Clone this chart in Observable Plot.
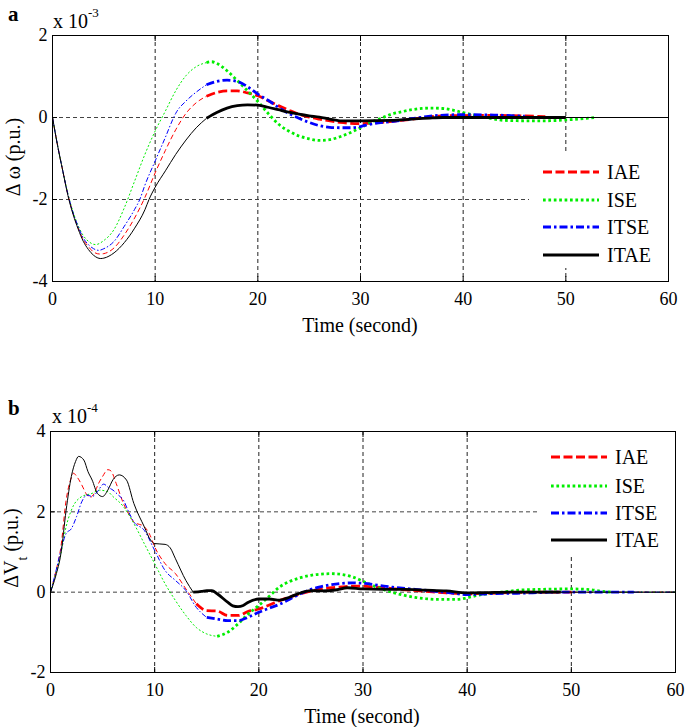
<!DOCTYPE html>
<html><head><meta charset="utf-8">
<script src="https://cdn.jsdelivr.net/npm/d3@7"></script>
<script src="https://cdn.jsdelivr.net/npm/@observablehq/plot@0.6"></script>
<style>
html,body{margin:0;padding:0;background:#fff;}
#wrap{position:relative;width:685px;height:727px;overflow:hidden;font-family:"Liberation Serif","Times New Roman",serif;color:#000;background:#fff;}
.abs{position:absolute;white-space:nowrap;line-height:1;}
.plotbox{position:absolute;left:0;}
</style></head><body><div id="wrap"></div>
<script>
// ---------- data ----------
const xTicks = [0, 10, 20, 30, 40, 50, 60];
const topYTicks = [-4, -2, 0, 2];
const botYTicks = [-2, 0, 2, 4];
const seriesNames = ["IAE", "ISE", "ITSE", "ITAE"];

// Panel a: Δω (×10^-3 p.u.)
const topIAE = [[0,0],[0.5,-0.69],[1,-1.3],[1.5,-1.88],[2,-2.33],[2.5,-2.69],[3,-2.98],[3.5,-3.15],[4,-3.28],[4.6,-3.33],[5,-3.32],[6,-3.18],[7,-2.86],[8,-2.45],[9,-1.95],[10,-1.35],[11,-0.8],[12,-0.3],[13,0.1],[14,0.36],[15,0.52],[16,0.61],[17,0.65],[18,0.65],[19,0.6],[20,0.53],[21,0.41],[22,0.29],[23,0.18],[24,0.08],[25,0.01],[26,-0.04],[28,-0.12],[30,-0.15],[32,-0.12],[34,-0.07],[36,-0.01],[38,0.04],[42,0.05],[46,0.04],[48,0.02],[50,0],[60,0]];
const topISE = [[0,0],[0.5,-0.69],[1,-1.3],[1.5,-1.86],[2,-2.3],[2.5,-2.64],[3,-2.88],[3.5,-3.02],[4.2,-3.1],[5,-3.0],[6,-2.73],[7,-2.2],[8,-1.55],[9,-0.9],[10,-0.33],[11,0.16],[12,0.65],[13,1.02],[14,1.24],[15,1.34],[15.5,1.36],[16,1.32],[17,1.14],[18,0.9],[19,0.65],[20,0.39],[21,0.1],[22,-0.16],[23,-0.33],[24,-0.45],[25,-0.52],[26,-0.56],[27,-0.54],[28,-0.47],[29,-0.37],[30,-0.25],[31,-0.12],[32,-0.02],[33,0.08],[34,0.14],[35,0.19],[36,0.22],[37,0.23],[38,0.22],[39,0.18],[40,0.12],[41,0.06],[42,0.01],[43,-0.04],[44,-0.07],[46,-0.08],[48,-0.08],[50,-0.06],[52,-0.02],[53,0],[60,0]];
const topITSE = [[0,0],[0.5,-0.69],[1,-1.3],[1.5,-1.87],[2,-2.32],[2.5,-2.66],[3,-2.94],[3.5,-3.1],[4,-3.2],[4.5,-3.24],[5,-3.2],[6,-3.02],[7,-2.65],[8,-2.24],[8.5,-2.0],[9,-1.65],[10,-1.06],[11,-0.48],[11.8,0],[12,0.1],[13,0.4],[14,0.62],[15,0.8],[16,0.88],[17,0.91],[18,0.88],[19,0.75],[20,0.57],[21,0.42],[22,0.25],[23,0.1],[24,-0.02],[25,-0.12],[26,-0.2],[27,-0.24],[28,-0.25],[29,-0.25],[30,-0.22],[31,-0.16],[33,-0.1],[35,-0.03],[37,0.04],[40,0.07],[43,0.06],[46,0.03],[48,0.01],[50,0],[60,0]];
const topITAE = [[0,0],[0.5,-0.69],[1,-1.3],[1.5,-1.9],[2,-2.36],[2.5,-2.72],[3,-3.02],[3.5,-3.22],[4,-3.36],[4.7,-3.44],[5,-3.43],[6,-3.3],[7,-3.05],[8,-2.7],[9,-2.25],[9.4,-2.0],[10,-1.7],[11,-1.3],[12,-0.9],[13,-0.55],[14,-0.25],[15,-0.02],[16,0.12],[17,0.23],[18,0.29],[19,0.31],[20,0.3],[21,0.25],[22,0.19],[23,0.13],[24,0.08],[25,0.04],[26,0.01],[27,-0.04],[28,-0.08],[30,-0.08],[33,-0.07],[35,-0.04],[37,-0.01],[38,0],[50,0],[60,0]];

// Panel b: ΔVt (×10^-4 p.u.)
const botIAE = [[0,0],[0.5,0.5],[1,1.13],[1.5,2.29],[2,2.85],[2.2,2.96],[2.6,2.85],[3,2.67],[3.5,2.42],[3.8,2.36],[4.2,2.46],[4.6,2.7],[5,2.88],[5.5,3.05],[5.8,3.02],[6.3,2.71],[7,2.21],[7.5,1.95],[8,1.75],[9,1.63],[9.5,1.45],[10,1.13],[11,0.71],[12,0.46],[13,0.08],[14,-0.29],[15,-0.46],[16,-0.47],[17,-0.58],[18,-0.58],[19,-0.48],[20,-0.42],[21,-0.32],[22,-0.21],[23,-0.12],[24,-0.04],[25,0.03],[26,0.08],[27,0.11],[28,0.13],[29,0.15],[30,0.15],[31,0.13],[32,0.11],[34,0.06],[36,0.02],[38,-0.02],[40,-0.04],[42,-0.03],[44,-0.01],[46,0],[50,0],[60,0]];
const botISE = [[0,0],[0.5,0.45],[1,0.96],[1.5,1.63],[2,2.04],[3,2.38],[4,2.46],[4.7,2.54],[5.5,2.5],[6,2.38],[7,2.13],[8,1.71],[9,1.21],[10,0.71],[11,0.21],[12,-0.21],[13,-0.58],[14,-0.88],[15,-1.04],[16,-1.1],[17,-1.0],[18,-0.79],[19,-0.54],[20,-0.33],[21,-0.1],[22,0.13],[23,0.27],[24,0.36],[25,0.42],[26,0.45],[27,0.46],[28,0.44],[29,0.38],[30,0.27],[31,0.16],[32,0.06],[33,-0.02],[34,-0.08],[35,-0.13],[36,-0.16],[37,-0.18],[39,-0.18],[40,-0.14],[41,-0.08],[42,-0.04],[43,-0.01],[44,0.02],[45,0.05],[47,0.07],[50,0.08],[51.5,0.07],[53,0.02],[54,0],[60,0]];
const botITSE = [[0,0],[0.5,0.5],[1,1.04],[1.5,1.46],[2,1.58],[2.5,1.88],[3,2.25],[3.5,2.42],[4,2.38],[4.5,2.5],[5.1,2.69],[5.6,2.6],[6,2.54],[6.5,2.42],[7,2.29],[7.5,2.0],[8,1.75],[9,1.54],[10,1.04],[11,0.54],[12,0.29],[13,0.04],[14,-0.38],[15,-0.63],[16,-0.67],[17,-0.71],[18,-0.71],[19,-0.62],[20,-0.5],[21,-0.4],[22,-0.3],[23,-0.17],[24,-0.04],[25,0.07],[26,0.14],[27,0.19],[28,0.22],[29,0.23],[30,0.22],[31,0.19],[32,0.15],[33,0.12],[35,0.07],[37,0.02],[38.5,-0.02],[40,-0.06],[42,-0.04],[44,-0.03],[46,-0.02],[48,0],[56,0],[60,0]];
const botITAE = [[0,0],[0.5,0.4],[1,0.96],[1.5,2.04],[2,2.88],[2.4,3.25],[2.7,3.38],[3.2,3.29],[3.6,3.0],[4,2.79],[4.5,2.46],[5,2.38],[5.5,2.54],[6,2.8],[6.6,2.92],[7.3,2.79],[8,2.21],[9,1.63],[9.6,1.3],[10,1.21],[11,1.19],[11.5,1.1],[12,0.83],[13,0.29],[13.7,0],[14.5,0.02],[15,0.04],[15.5,0.04],[16,-0.04],[17,-0.25],[17.5,-0.34],[18,-0.36],[18.5,-0.33],[19,-0.25],[20,-0.17],[21,-0.17],[22,-0.2],[23,-0.12],[24,-0.02],[25,0.04],[26,0.03],[27.5,0.06],[28.5,0.11],[30,0.08],[32,0.07],[34,0.07],[36,0.05],[38,0.03],[40,-0.02],[42,-0.01],[44,0],[49,0],[60,0]];

// ---------- styling (not data) ----------
const styles = {
  IAE:  {stroke: "#ff0000", thick: "9,3.5",       thin: "5,3"},
  ISE:  {stroke: "#00ee00", thick: "2.7,2.7",     thin: "2,2"},
  ITSE: {stroke: "#0000ff", thick: "8,3,2.5,3",   thin: "5,2,1.5,2"},
  ITAE: {stroke: "#000000", thick: null,          thin: null}
};
const THICK = 2.8, THIN = 1;
const W = 685;

function seriesMarks(pts, name, from, to) {
  const st = styles[name];
  const opts = (w, dash) => ({x: d => d[0], y: d => d[1], stroke: st.stroke, strokeWidth: w,
    strokeDasharray: dash, strokeLinecap: "butt", strokeLinejoin: "round", curve: "monotone-x"});
  return [
    Plot.line(pts.filter(d => d[0] <= from), opts(THIN, st.thin)),
    Plot.line(pts.filter(d => d[0] >= from && d[0] <= to), opts(THICK, st.thick)),
    Plot.line(pts.filter(d => d[0] >= to), opts(THIN, st.thin))
  ];
}

function chart(seriesList, yDomain, yTicks, L) {
  const fmt = d => String(d);
  const inner = xTicks.filter(t => t > 0 && t < 60);
  const innerY = yTicks.filter(v => v > yDomain[0] && v < yDomain[1]);
  const marks = [
    Plot.ruleX(inner, {stroke: "#222", strokeWidth: 1, strokeDasharray: "4,3"}),
    Plot.ruleY(innerY, {stroke: "#444", strokeWidth: 1, strokeDasharray: "4,3"})
  ];
  for (const s of seriesList) marks.push(...seriesMarks(s.pts, s.name, s.from, s.to));
  marks.push(
    Plot.frame({stroke: "#000", strokeWidth: 1}),
    Plot.axisX({anchor: "bottom", ticks: xTicks, tickSize: 0, tickPadding: 11, fontSize: 18, label: null, tickFormat: fmt}),
    Plot.axisX({anchor: "bottom", ticks: xTicks, tickSize: -5, label: null, tickFormat: () => ""}),
    Plot.axisX({anchor: "top", ticks: xTicks, tickSize: -5, label: null, tickFormat: () => ""}),
    Plot.axisY({anchor: "left", ticks: yTicks, tickSize: 0, tickPadding: 5, fontSize: 18, label: null, tickFormat: fmt}),
    Plot.axisY({anchor: "left", ticks: yTicks, tickSize: -5, label: null, tickFormat: () => ""}),
    Plot.axisY({anchor: "right", ticks: yTicks, tickSize: -5, label: null, tickFormat: () => ""})
  );
  return Plot.plot({
    width: W, height: L.height,
    marginTop: L.marginTop, marginBottom: L.marginBottom, marginLeft: L.marginLeft, marginRight: L.marginRight,
    x: {domain: [0, 60]}, y: {domain: yDomain},
    style: {fontFamily: "'Liberation Serif', 'Times New Roman', serif", color: "#000", background: "#fff", overflow: "visible"},
    marks
  });
}

const wrap = document.getElementById("wrap");
function place(el, top) {
  const d = document.createElement("div");
  d.className = "plotbox"; d.style.top = top + "px";
  d.appendChild(el); wrap.appendChild(d);
}
function text(html, css) {
  const d = document.createElement("div");
  d.className = "abs"; d.innerHTML = html;
  Object.assign(d.style, css); wrap.appendChild(d); return d;
}
function legend(box, x1, x2, tx, rows) {
  const b = document.createElement("div");
  b.className = "abs";
  Object.assign(b.style, {left: box[0] + "px", top: box[1] + "px", width: box[2] + "px", height: box[3] + "px", background: "#fff"});
  wrap.appendChild(b);
  seriesNames.forEach((n, i) => {
    const st = styles[n];
    const ns = "http://www.w3.org/2000/svg";
    const svg = document.createElementNS(ns, "svg");
    svg.setAttribute("width", x2 - x1); svg.setAttribute("height", 10);
    svg.style.position = "absolute"; svg.style.left = x1 + "px"; svg.style.top = (rows[i] - 5) + "px";
    const ln = document.createElementNS(ns, "line");
    ln.setAttribute("x1", 0); ln.setAttribute("x2", x2 - x1); ln.setAttribute("y1", 5); ln.setAttribute("y2", 5);
    ln.setAttribute("stroke", st.stroke); ln.setAttribute("stroke-width", 3.2);
    if (st.thick) ln.setAttribute("stroke-dasharray", st.thick);
    svg.appendChild(ln); wrap.appendChild(svg);
    text(n, {left: tx + "px", top: (rows[i] - 10) + "px", fontSize: "20px"});
  });
}

// Panel a
place(chart([
  {name: "IAE", pts: topIAE, from: 15, to: 48},
  {name: "ISE", pts: topISE, from: 15, to: 53},
  {name: "ITSE", pts: topITSE, from: 15, to: 46},
  {name: "ITAE", pts: topITAE, from: 15, to: 50}
], [-4, 2], topYTicks, {height: 345, marginTop: 35, marginBottom: 64, marginLeft: 52, marginRight: 17}), 0);

// Panel b
place(chart([
  {name: "IAE", pts: botIAE, from: 14, to: 50},
  {name: "ISE", pts: botISE, from: 16, to: 54},
  {name: "ITSE", pts: botITSE, from: 15, to: 56},
  {name: "ITAE", pts: botITAE, from: 13.7, to: 49}
], [-2, 4], botYTicks, {height: 382, marginTop: 86, marginBottom: 55, marginLeft: 50, marginRight: 10}), 345);

// texts
text("a", {left: "8px", top: "4px", fontSize: "21px", fontWeight: "bold"});
text("x 10<sup style='font-size:13px;position:relative;top:-3px'>-3</sup>", {left: "53px", top: "9px", fontSize: "20px"});
text("Δ ω (p.u.)", {left: "13px", top: "157px", fontSize: "20px", transform: "translate(-50%,-50%) rotate(-90deg)"});
text("Time (second)", {left: "360px", top: "325px", fontSize: "20px", transform: "translate(-50%,-50%)"});
legend([529, 153, 139, 115], 543, 599, 607, [172, 200, 227, 255]);

text("b", {left: "8px", top: "398px", fontSize: "21px", fontWeight: "bold"});
text("x 10<sup style='font-size:13px;position:relative;top:-3px'>-4</sup>", {left: "52px", top: "404px", fontSize: "20px"});
text("ΔV<sub style='font-size:14px;position:relative;top:4px'>t</sub> (p.u.)", {left: "13px", top: "548px", fontSize: "20px", transform: "translate(-50%,-50%) rotate(-90deg)"});
text("Time (second)", {left: "362px", top: "716px", fontSize: "20px", transform: "translate(-50%,-50%)"});
legend([538, 432, 137, 125], 551, 607, 615, [457, 486, 513, 540]);
</script></body></html>
